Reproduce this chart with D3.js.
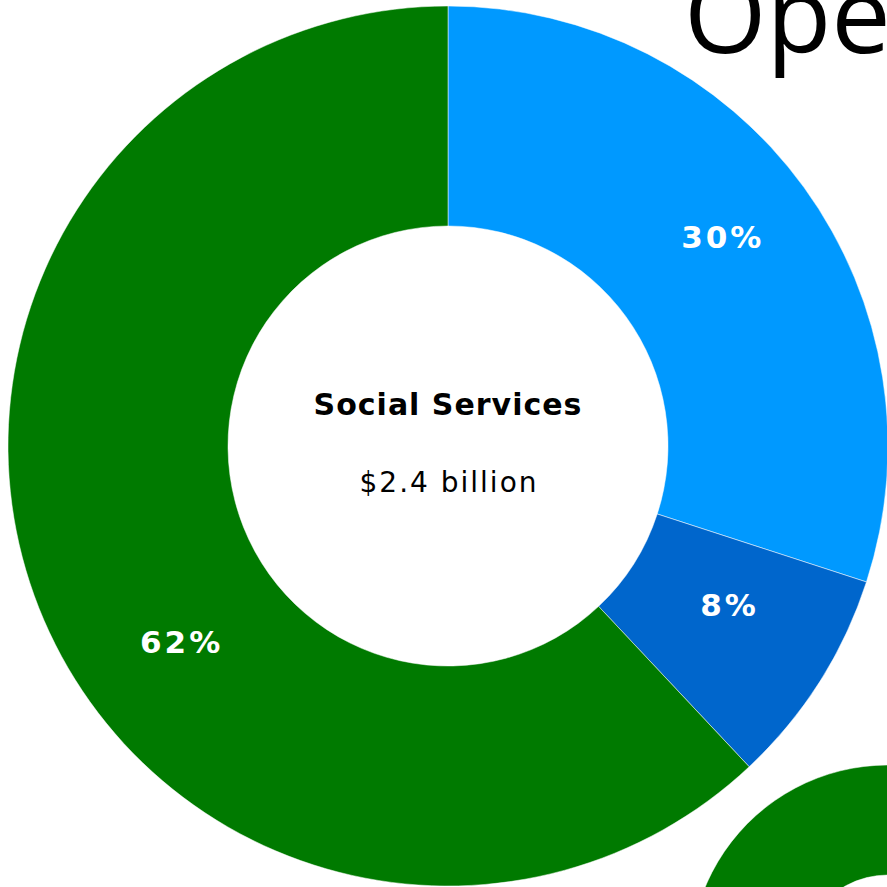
<!DOCTYPE html>
<html>
<head>
<meta charset="utf-8">
<script src="https://cdn.jsdelivr.net/npm/d3@7"></script>
<style>
  html, body { margin: 0; padding: 0; background: #fff; overflow: hidden; }
  svg { display: block; }
</style>
</head>
<body>
<svg id="chart" width="887" height="887"></svg>
<script>
// Spending shares for the Social Services program
const categories = ["Program A", "Program B", "Program C"];
const shares = [30, 8, 62];
const shareLabels = ["30%", "8%", "62%"];
const sliceColors = ["#0099ff", "#0066cc", "#007a00"];

// Neighbouring program donut (only its green slice shows at the edge)
const nextShares = [30, 8, 62];

const programName = "Social Services";
const programTotal = "$2.4 billion";
const pageTitle = "Operating Budget";

const W = 887, H = 887;
const svg = d3.select("#chart");

// Page heading, running off the right edge
svg.append("text")
  .attr("x", 684)
  .attr("y", 53)
  .attr("font-family", "'Open Sans', sans-serif")
  .attr("font-size", 106)
  .attr("fill", "#000")
  .text(pageTitle);

const pie = d3.pie().sort(null).value(d => d);

function donut(g, values, outer, inner) {
  const arc = d3.arc().innerRadius(inner).outerRadius(outer);
  const arcs = pie(values);
  g.selectAll("path.slice")
    .data(arcs)
    .join("path")
    .attr("class", "slice")
    .attr("d", arc)
    .attr("fill", (d, i) => sliceColors[i])
    .attr("stroke", "#ffffff")
    .attr("stroke-width", 0.5);
  return arcs;
}

// Main donut
const cx = 448, cy = 446, R = 440, r = 220;
const main = svg.append("g").attr("transform", `translate(${cx},${cy})`);
const arcs = donut(main, shares, R, r);

// Label placement: radius and small angular nudges per slice
const labelRadius = [344, 322, 332];
const labelNudge = [-1.4, -2.8, -14.6]; // degrees
main.selectAll("text.pct")
  .data(arcs)
  .join("text")
  .attr("class", "pct")
  .each(function (d, i) {
    const a = (d.startAngle + d.endAngle) / 2 + labelNudge[i] * Math.PI / 180;
    d3.select(this)
      .attr("x", Math.sin(a) * labelRadius[i] + 1.5)
      .attr("y", -Math.cos(a) * labelRadius[i]);
  })
  .attr("text-anchor", "middle")
  .attr("dy", "0.36em")
  .attr("font-family", "'DejaVu Sans', Verdana, sans-serif")
  .attr("font-weight", "bold")
  .attr("font-size", 31)
  .attr("letter-spacing", 3)
  .attr("fill", "#fff")
  .text((d, i) => shareLabels[i]);

// Centre caption
main.append("text")
  .attr("x", 0).attr("y", -31)
  .attr("text-anchor", "middle")
  .attr("font-family", "'DejaVu Sans', Verdana, sans-serif")
  .attr("font-weight", "bold")
  .attr("font-size", 30)
  .attr("letter-spacing", 1)
  .attr("fill", "#000")
  .text(programName);

main.append("text")
  .attr("x", 1).attr("y", 46)
  .attr("text-anchor", "middle")
  .attr("font-family", "'DejaVu Sans', Verdana, sans-serif")
  .attr("font-size", 28)
  .attr("letter-spacing", 2)
  .attr("fill", "#000")
  .text(programTotal);

// Next program's donut, peeking in at the lower right corner
const next = svg.append("g").attr("transform", "translate(888,963)");
donut(next, nextShares, 198, 88);
</script>
</body>
</html>
